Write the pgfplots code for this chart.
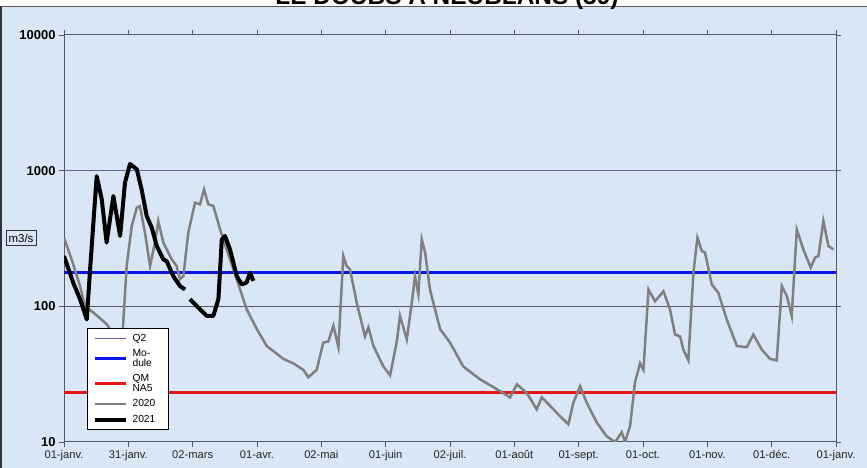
\documentclass[border=0pt]{standalone}
\usepackage{pgfplots}
\pgfplotsset{compat=1.18}
\usepackage{fontspec}
\setmainfont{Liberation Sans}

\definecolor{bgblue}{RGB}{216,230,246}
\definecolor{qdeux}{RGB}{92,104,156}
\definecolor{modblue}{RGB}{10,20,230}
\definecolor{qmred}{RGB}{235,20,20}
\definecolor{gridc}{RGB}{85,88,100}
\definecolor{gris}{RGB}{128,128,128}

% debit 2020 (jour de l'annee, m3/s)
\pgfplotstableread{
x y
0 320
3.6 222
7.6 141
10 100
13.9 90
20.2 74
23.5 62
26.5 48
27.4 50
29.7 198
32.1 390
34.5 533
36 548
38.4 348
40.8 198
43.1 295
44.7 425
47.1 295
48.7 263
51.1 222
53.4 198
55 158
56.6 167
58.9 348
62.1 580
64.5 565
66.4 728
68.4 565
70.8 550
74 370
77.1 263
81.9 158
86.6 95
91.4 68
96.1 51
104 41
108.7 38
113.5 34
115.8 30
119.8 34
122.9 54
125.3 55
127.7 72
130.1 50
132.4 235
134 198
135.6 187
138.8 106
142.7 60
144.3 70
146.7 51
151.4 36
154.6 31
157.7 54
159.3 85
162.5 57
164.9 106
166.4 167
168 123
169.6 311
171.2 249
173.5 133
178.3 68
183 54
189.3 36
197.2 29
205.2 24.5
211.5 21.3
214.7 26.6
219.4 23
224.1 17.4
226.5 21.3
230.4 18.5
233.6 16.4
239.1 13.5
241.5 19.5
244.7 25.8
247.8 19.5
252.6 13.9
257.3 11
261.3 10
264.4 11.8
266 10
268.4 13.2
270.7 27.5
273.1 38
274.7 34
277.1 133
280.2 109
284.2 129
287.3 95
289.7 62
292.1 60
293.6 48
296 40
298.4 177
300.3 321
302.4 256
303.9 249
307.1 145
310.2 126
314.2 80
319 51
323.7 50
326.8 62
330.8 48
334.7 41
337.9 40
340.3 141
342.7 119
345 85
347.4 369
350.5 263
354 193
356.1 229
357.7 235
360 426
362.4 278
364.8 263
}\annee

% debit 2021
\pgfplotstableread{
x y
0 235
4.4 149
7.6 113
10.8 80
12.5 200
15.5 911
17.9 615
20.2 295
23.4 650
26.6 330
28.9 815
31.3 1120
34.5 1025
36.8 728
39.2 463
41.6 380
44 278
47.1 222
48.7 215
51.8 167
55 141
57.4 133
58 nan
59.7 113
64.5 95
67.7 85
70.8 85
73.2 113
74.8 311
76.3 330
78.7 263
81.9 167
84.3 145
86.6 150
88.2 177
89.8 154
}\courante

\begin{document}
\begin{tikzpicture}[x=1bp,y=1bp]
\useasboundingbox (0,0) rectangle (867,468);
\fill[bgblue] (0,0) rectangle (867,462);
\fill[white] (0,462) rectangle (867,468);
\draw[gray!70!black, line width=0.8bp] (0,462) -- (867,462);
\draw[black!80, line width=1.5bp] (1,0) -- (1,462);
\node[anchor=base, font=\bfseries\fontsize{24.5}{26}\selectfont] at (447,463) {LE DOUBS A NEUBLANS (39)};
\node[draw=black!80, fill=bgblue, line width=0.8bp, inner xsep=2.5bp, inner ysep=3bp, font=\fontsize{11.5}{12}\selectfont] at (21,230) {m3/s};

\begin{axis}[
  at={(64bp,26bp)}, anchor=south west, scale only axis,
  width=772bp, height=407bp,
  ymode=log, ymin=10, ymax=10000, xmin=0, xmax=366,
  ytick={10,100,1000,10000}, yticklabels={10,100,1000,10000},
  yminorticks=false,
  xtick={0,30.5,61,91.5,122,152.5,183,213.5,244,274.5,305,335.5,366},
  xticklabels={01-janv.,31-janv.,02-mars,01-avr.,02-mai,01-juin,02-juil.,01-août,01-sept.,01-oct.,01-nov.,01-déc.,01-janv.},
  ymajorgrids, grid style={gridc, line width=1bp},
  tick align=outside, major tick length=5bp,
  tick style={gridc, line width=0.8bp},
  axis line style={gridc, line width=1bp},
  xticklabel style={font=\fontsize{11.2}{12}\selectfont, text=black!85},
  yticklabel style={font=\bfseries\fontsize{13}{14}\selectfont},
  unbounded coords=jump,
  legend image code/.code={\draw[#1] (0bp,0bp) -- (31bp,0bp);},
  legend cell align=left,
  legend style={at={(0.03,0.28)}, anchor=north west, fill=white, draw=black,
    line width=0.8bp, font=\fontsize{10.3}{9.5}\selectfont, cells={align=left},
    row sep=3bp, inner xsep=5bp, inner ysep=3.5bp,
    /tikz/every odd column/.append style={column sep=3bp}},
]
\addplot[qdeux, line width=1.5bp] coordinates {(0,1000) (366,1000)};
\addlegendentry{Q2}
\addplot[modblue, line width=3bp] coordinates {(0,178) (366,178)};
\addlegendentry{Mo-\\dule}
\addplot[qmred, line width=3bp] coordinates {(0,23.2) (366,23.2)};
\addlegendentry{QM\\NA5}
\addplot[gris, line width=2.5bp] table {\annee};
\addlegendentry{2020\hspace{6bp}}
\addplot[black, line width=4bp, line join=round] table {\courante};
\addlegendentry{2021}
\end{axis}
\end{tikzpicture}
\end{document}
